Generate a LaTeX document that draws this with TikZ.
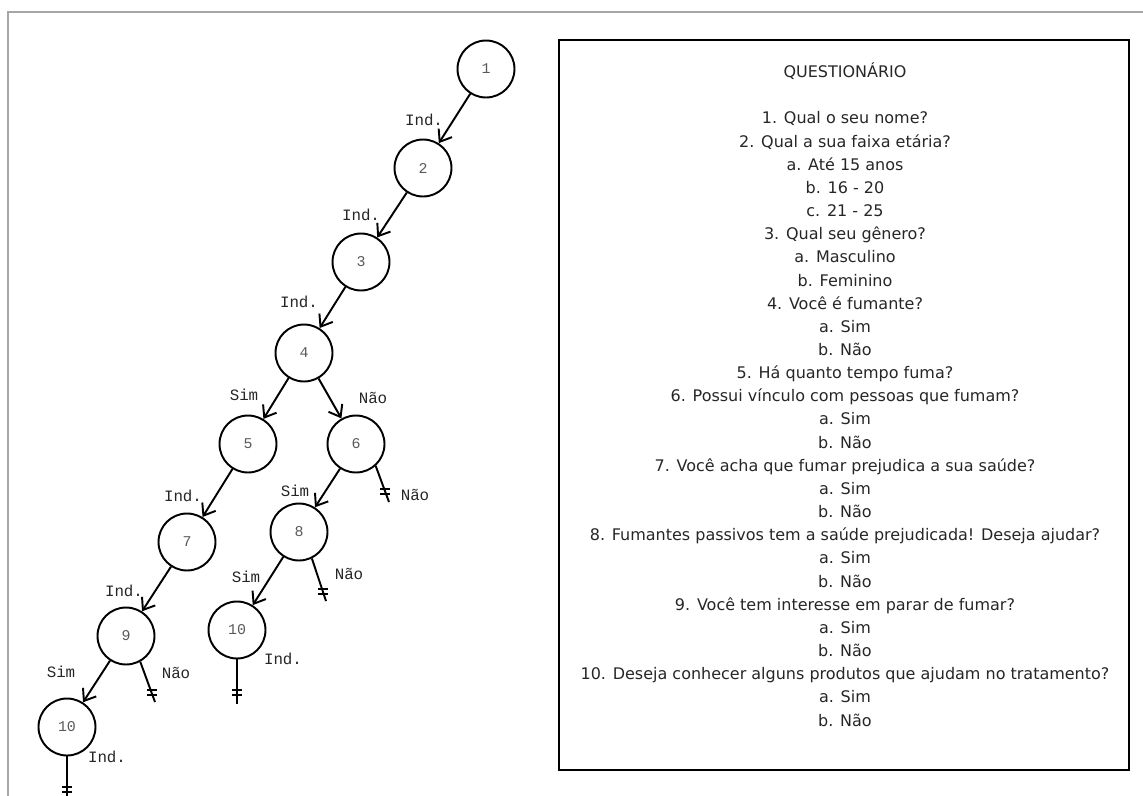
\documentclass[tikz,border=0pt]{standalone}
\usepackage{fontspec}
\setmainfont{DejaVu Sans}
\newfontfamily\monofont{Liberation Mono}
\usetikzlibrary{arrows.meta}

\newcommand{\cutbar}[1]{\draw (#1) ++(-5,-2.5) -- ++(10,0) ++(-10,5) -- ++(10,0);}

\begin{document}
\begin{tikzpicture}[x=0.02cm, y=-0.02cm, line width=1.1pt,
                    q node/.style={circle,draw,minimum size=1.14cm,inner sep=0pt,
                      font=\monofont\fontsize{8.5}{9}\selectfont,text=black!65},
                    lbl/.style={font=\monofont\fontsize{9}{10}\selectfont,text=black!85,inner sep=1pt},
                    go/.style={-{Straight Barb[length=6pt,width=9pt]}}]
  \useasboundingbox (0,0) rectangle (1143,795);
  \clip (0,0) rectangle (1143,795);
  \draw[gray!70, line width=1pt] (8,800) -- (8,12) -- (1150,12);

  \node[q node] (q1) at (486,69) {1};
  \node[q node] (q2) at (423,168) {2};
  \node[q node] (q3) at (361,262) {3};
  \node[q node] (q4) at (304,353) {4};
  \node[q node] (q5) at (248,444) {5};
  \node[q node] (q6) at (356,444) {6};
  \node[q node] (q7) at (187,542) {7};
  \node[q node] (q8) at (299,532) {8};
  \node[q node] (q9) at (126,636) {9};
  \node[q node] (q10a) at (237,630) {10};
  \node[q node] (q10b) at (67,727) {10};

  \path[go]
    (q1) edge (q2)
    (q2) edge (q3)
    (q3) edge (q4)
    (q4) edge (q5)
         edge (q6)
    (q5) edge (q7)
    (q6) edge (q8)
    (q7) edge (q9)
    (q8) edge (q10a)
    (q9) edge (q10b);

  \node[lbl] (l12) at (424,120) {Ind.};
  \node[lbl] (l23) at (361,215) {Ind.};
  \node[lbl] (l34) at (299,302) {Ind.};
  \node[lbl] (l45) at (244,395) {Sim};
  \node[lbl] (l46) at (373,398) {Não};
  \node[lbl] (l57) at (183,496) {Ind.};
  \node[lbl] (l68) at (295,491) {Sim};
  \node[lbl] (l6x) at (415,495) {Não};
  \node[lbl] (l79) at (124,591) {Ind.};
  \node[lbl] (l810) at (246,577) {Sim};
  \node[lbl] (l8x) at (349,574) {Não};
  \node[lbl] (l910) at (61,672) {Sim};
  \node[lbl] (l9x) at (176,673) {Não};
  \node[lbl] (l10a) at (283,659) {Ind.};
  \node[lbl] (l10b) at (107,757) {Ind.};

  % ramos encerrados
  \coordinate (e6) at (389,502);
  \coordinate (e8) at (326,601);
  \coordinate (e9) at (155,702);
  \coordinate (e10a) at (237,704);
  \coordinate (e10b) at (67,800);
  \draw (q6.-48) -- coordinate[pos=0.7] (x6) (e6);
  \draw (q8.-64) -- coordinate[pos=0.78] (x8) (e8);
  \draw (q9.-61) -- coordinate[pos=0.77] (x9) (e9);
  \draw (q10a.south) -- coordinate[pos=0.74] (x10a) (e10a);
  \draw (q10b.south) -- coordinate[pos=0.75] (x10b) (e10b);
  \cutbar{x6}
  \cutbar{x8}
  \cutbar{x9}
  \cutbar{x10a}
  \cutbar{x10b}

  \node[draw,line width=1.2pt,minimum width=11.4cm,minimum height=14.6cm,inner sep=0pt] (caixa) at (844,405) {};
  \node[anchor=base,align=center,font=\fontsize{9.1}{13.18}\selectfont,text=black!85] (quest) at (845,726)
    {QUESTIONÁRIO\\[13.18pt]
     1. Qual o seu nome?\\
     2. Qual a sua faixa etária?\\
     a. Até 15 anos\\
     b. 16 - 20\\
     c. 21 - 25\\
     3. Qual seu gênero?\\
     a. Masculino\\
     b. Feminino\\
     4. Você é fumante?\\
     a. Sim\\
     b. Não\\
     5. Há quanto tempo fuma?\\
     6. Possui vínculo com pessoas que fumam?\\
     a. Sim\\
     b. Não\\
     7. Você acha que fumar prejudica a sua saúde?\\
     a. Sim\\
     b. Não\\
     8. Fumantes passivos tem a saúde prejudicada! Deseja ajudar?\\
     a. Sim\\
     b. Não\\
     9. Você tem interesse em parar de fumar?\\
     a. Sim\\
     b. Não\\
     10. Deseja conhecer alguns produtos que ajudam no tratamento?\\
     a. Sim\\
     b. Não};
\end{tikzpicture}
\end{document}
